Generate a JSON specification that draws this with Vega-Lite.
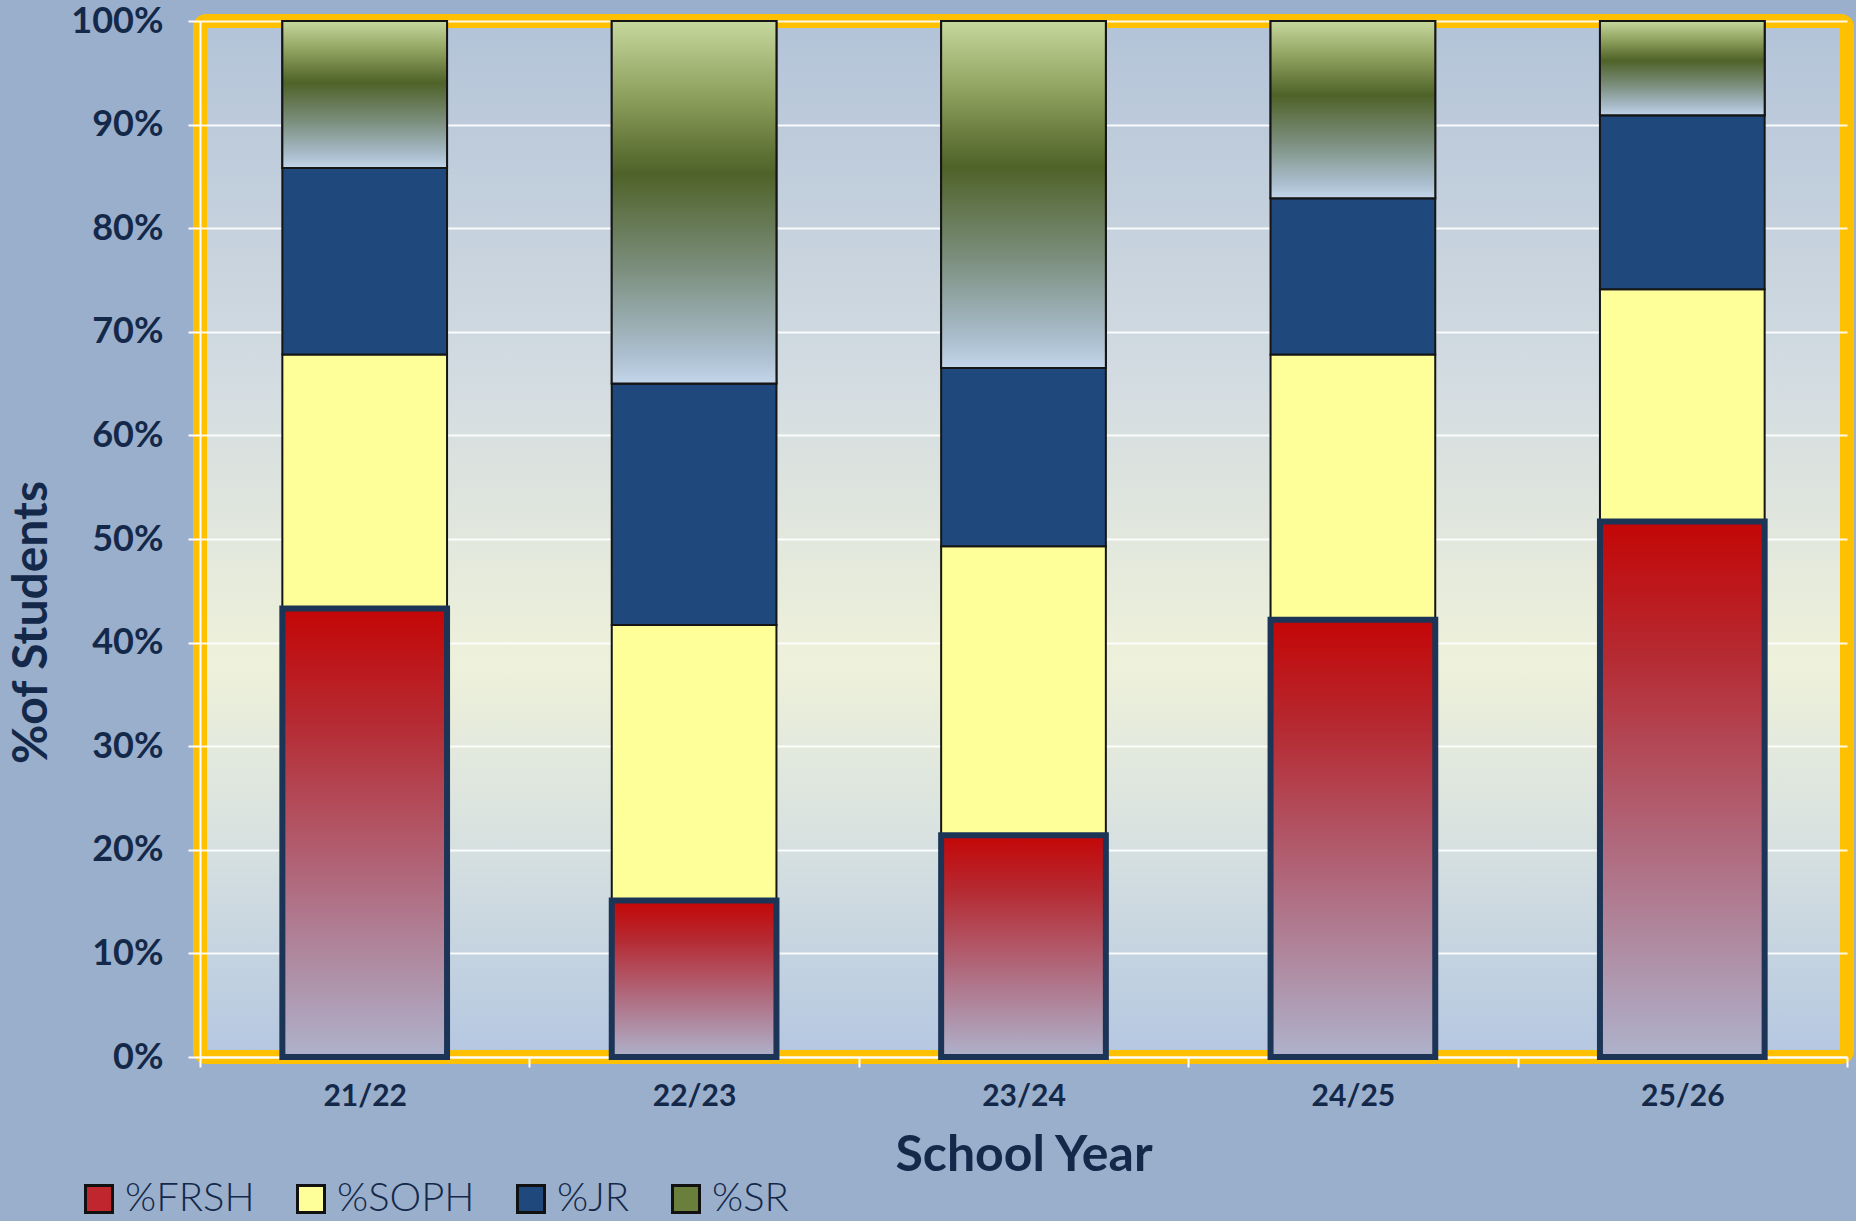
{
  "$schema": "https://vega.github.io/schema/vega-lite/v6.json",
  "width": 1647,
  "height": 1036,
  "autosize": "none",
  "padding": {"left": 200, "top": 21, "right": 9, "bottom": 164},
  "background": "#9aafcb",
  "config": {
    "font": "Lato",
    "view": {
      "stroke": "#ffc000",
      "strokeWidth": 14,
      "cornerRadius": 6,
      "fill": {
        "gradient": "linear", "x1": 0, "y1": 0, "x2": 0, "y2": 1,
        "stops": [
          {"offset": 0, "color": "#b3c3d8"},
          {"offset": 0.35, "color": "#d3dce1"},
          {"offset": 0.62, "color": "#eef1da"},
          {"offset": 0.8, "color": "#d6e0e0"},
          {"offset": 1, "color": "#b4c7e1"}
        ]
      }
    }
  },
  "data": {
    "values": [
      {"year": "21/22", "cls": "%FRSH", "rank": 1, "pct": 43.3},
      {"year": "21/22", "cls": "%SOPH", "rank": 2, "pct": 24.5},
      {"year": "21/22", "cls": "%JR", "rank": 3, "pct": 18.0},
      {"year": "21/22", "cls": "%SR", "rank": 4, "pct": 14.2},
      {"year": "22/23", "cls": "%FRSH", "rank": 1, "pct": 15.1},
      {"year": "22/23", "cls": "%SOPH", "rank": 2, "pct": 26.6},
      {"year": "22/23", "cls": "%JR", "rank": 3, "pct": 23.3},
      {"year": "22/23", "cls": "%SR", "rank": 4, "pct": 35.0},
      {"year": "23/24", "cls": "%FRSH", "rank": 1, "pct": 21.4},
      {"year": "23/24", "cls": "%SOPH", "rank": 2, "pct": 27.9},
      {"year": "23/24", "cls": "%JR", "rank": 3, "pct": 17.2},
      {"year": "23/24", "cls": "%SR", "rank": 4, "pct": 33.5},
      {"year": "24/25", "cls": "%FRSH", "rank": 1, "pct": 42.2},
      {"year": "24/25", "cls": "%SOPH", "rank": 2, "pct": 25.6},
      {"year": "24/25", "cls": "%JR", "rank": 3, "pct": 15.1},
      {"year": "24/25", "cls": "%SR", "rank": 4, "pct": 17.1},
      {"year": "25/26", "cls": "%FRSH", "rank": 1, "pct": 51.7},
      {"year": "25/26", "cls": "%SOPH", "rank": 2, "pct": 22.4},
      {"year": "25/26", "cls": "%JR", "rank": 3, "pct": 16.8},
      {"year": "25/26", "cls": "%SR", "rank": 4, "pct": 9.1}
    ]
  },
  "transform": [
    {"stack": "pct", "groupby": ["year"], "offset": "normalize", "sort": [{"field": "rank", "order": "ascending"}], "as": ["y0", "y1"]}
  ],
  "encoding": {
    "x": {
      "field": "year", "type": "nominal", "sort": null,
      "scale": {"paddingInner": 0, "paddingOuter": 0},
      "axis": {
        "title": "School Year",
        "titleFontSize": 50, "titleFontWeight": "bold", "titleColor": "#14284a",
        "titleBaseline": "alphabetic", "titleY": 113,
        "labelAngle": 0, "labelFontSize": 30, "labelFontWeight": "bold", "labelColor": "#14284a",
        "labelPadding": 14,
        "domainColor": "#ffffff", "domainWidth": 2,
        "tickColor": "#ffffff", "tickWidth": 2, "tickSize": 10, "tickBand": "extent",
        "grid": false
      }
    },
    "y": {
      "field": "y0", "type": "quantitative",
      "scale": {"domain": [0, 1], "nice": false},
      "axis": {
        "title": "%of Students",
        "titleFontSize": 48, "titleFontWeight": "bold", "titleColor": "#14284a",
        "titleAngle": 270, "titleAlign": "center", "titleBaseline": "middle",
        "titleX": -168, "titleY": 601,
        "format": ".0%", "values": [0, 0.1, 0.2, 0.3, 0.4, 0.5, 0.6, 0.7, 0.8, 0.9, 1],
        "labelOverlap": false, "labelFlush": false,
        "labelFontSize": 36, "labelFontWeight": "bold", "labelColor": "#14284a", "labelPadding": 25,
        "domainColor": "#ffffff", "domainWidth": 2,
        "tickColor": "#ffffff", "tickWidth": 2, "tickSize": 12,
        "grid": true, "gridColor": "#ffffff", "gridWidth": 2, "gridOpacity": 0.9
      }
    },
    "y2": {"field": "y1"}
  },
  "layer": [
    {
      "mark": {"type": "bar", "width": {"band": 0.5}, "stroke": "#151515", "strokeWidth": 2},
      "encoding": {
        "color": {
          "field": "cls", "type": "nominal",
          "scale": {"domain": ["%FRSH", "%SOPH", "%JR", "%SR"], "range": ["#c0262e", "#ffff99", "#1f497d", "#6b7f3c"]},
          "legend": {
            "title": null, "orient": "none", "direction": "horizontal",
            "legendX": -121, "legendY": 1158,
            "symbolType": "square", "symbolSize": 729, "symbolStrokeColor": "#111111", "symbolStrokeWidth": 3,
            "symbolOpacity": 1,
            "labelFontSize": 40, "labelFontWeight": 300, "labelColor": "#14284a", "labelOffset": 6,
            "columnPadding": 36, "padding": 0
          }
        }
      }
    },
    {
      "transform": [{"filter": "datum.cls === '%FRSH'"}],
      "mark": {
        "type": "bar", "width": {"band": 0.5}, "stroke": "#1c3557", "strokeWidth": 6,
        "color": {
          "gradient": "linear", "x1": 0, "y1": 0, "x2": 0, "y2": 1,
          "stops": [
            {"offset": 0, "color": "#c40606"},
            {"offset": 0.25, "color": "#b52a32"},
            {"offset": 0.6, "color": "#b0687c"},
            {"offset": 1, "color": "#aeb2cb"}
          ]
        }
      }
    },
    {
      "transform": [{"filter": "datum.cls === '%SR'"}],
      "mark": {
        "type": "bar", "width": {"band": 0.5}, "stroke": "#151515", "strokeWidth": 2,
        "color": {
          "gradient": "linear", "x1": 0, "y1": 0, "x2": 0, "y2": 1,
          "stops": [
            {"offset": 0, "color": "#c6d89d"},
            {"offset": 0.2, "color": "#8fa25f"},
            {"offset": 0.42, "color": "#4f6228"},
            {"offset": 0.68, "color": "#7b8e7c"},
            {"offset": 0.92, "color": "#abbfd0"},
            {"offset": 1, "color": "#c4d6ea"}
          ]
        }
      }
    }
  ]
}
